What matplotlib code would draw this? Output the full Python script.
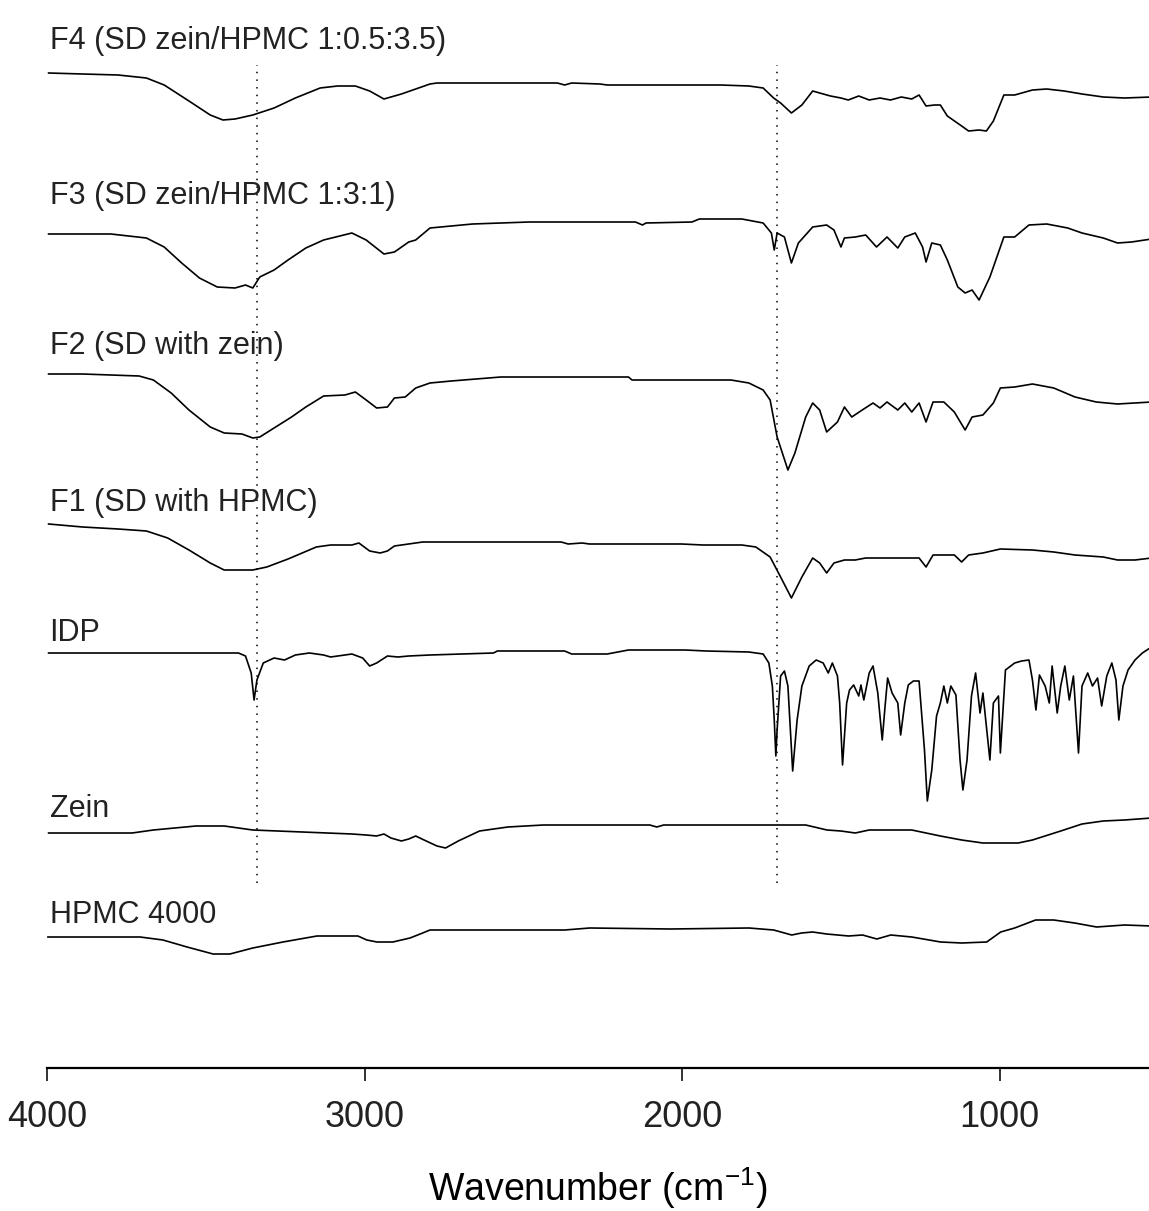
import matplotlib.pyplot as plt
import matplotlib as mpl

plt.rcParams["font.family"] = ["Liberation Sans", "DejaVu Sans"]
plt.rcParams["mathtext.default"] = "regular"

# spectra: wavenumber (cm-1) and relative transmittance
f4_wn = [3995, 3888, 3776, 3687, 3631, 3553, 3486, 3446, 3408, 3352, 3285, 3218, 3140, 3085, 3029,
	2984, 2939, 2884, 2794, 2772, 2393, 2370, 2348, 2259, 2236, 1879, 1790, 1745, 1712, 1690,
	1656, 1623, 1589, 1567, 1533, 1500, 1477, 1444, 1411, 1377, 1344, 1310, 1277, 1254, 1232,
	1205, 1187, 1165, 1120, 1098, 1065, 1042, 1020, 987, 953, 897, 852, 797, 741, 674, 607, 522]
f4_t = [0, -1, -2, -5, -12, -28, -42, -47, -46, -42, -35, -25, -15, -13, -13,
	-18, -26, -21, -11, -10, -10, -12, -10, -11, -12, -12, -13, -15, -25, -30,
	-40, -32, -18, -20, -23, -25, -27, -23, -27, -25, -27, -24, -26, -22, -33,
	-32, -32, -43, -53, -58, -57, -58, -48, -22, -22, -17, -16, -18, -21, -24, -25, -24]

f3_wn = [3995, 3855, 3799, 3687, 3631, 3576, 3520, 3464, 3408, 3375, 3352, 3330, 3285, 3241, 3185,
	3129, 3040, 2995, 2939, 2906, 2861, 2839, 2794, 2660, 2482, 2147, 2125, 2114, 1969, 1946,
	1812, 1745, 1719, 1710, 1701, 1678, 1656, 1634, 1589, 1545, 1522, 1500, 1489, 1455, 1422,
	1388, 1355, 1321, 1299, 1266, 1243, 1232, 1214, 1187, 1165, 1132, 1109, 1087, 1065, 1031,
	987, 953, 908, 852, 786, 741, 674, 629, 585, 522]
f3_t = [0, 0, 0, -4, -13, -29, -44, -53, -54, -51, -54, -43, -36, -26, -14,
	-6, 1, -6, -20, -18, -8, -6, 6, 10, 12, 12, 9, 11, 12, 15,
	15, 11, 1, -16, 1, -3, -29, -9, 7, 9, 4, -13, -4, -3, -1,
	-13, -3, -14, -3, 1, -13, -28, -9, -11, -26, -53, -59, -56, -66, -43,
	-3, -3, 9, 10, 6, 1, -4, -9, -8, -5]

f2_wn = [3995, 3888, 3799, 3710, 3665, 3609, 3553, 3486, 3442, 3386, 3352, 3330, 3285, 3230, 3185,
	3129, 3062, 3029, 2995, 2962, 2928, 2906, 2872, 2839, 2794, 2727, 2571, 2169, 2158, 1846,
	1790, 1745, 1723, 1701, 1667, 1645, 1611, 1589, 1567, 1545, 1511, 1489, 1466, 1433, 1399,
	1377, 1355, 1321, 1299, 1277, 1254, 1232, 1210, 1176, 1143, 1109, 1087, 1053, 1020, 998,
	953, 897, 830, 763, 696, 629, 522]
f2_t = [0, 0, -1, -2, -6, -19, -36, -53, -59, -60, -64, -63, -54, -43, -33,
	-22, -21, -18, -26, -34, -33, -24, -23, -14, -9, -7, -3, -3, -6, -6,
	-9, -16, -26, -63, -96, -79, -43, -29, -36, -58, -48, -33, -43, -36, -29,
	-34, -28, -36, -29, -38, -29, -48, -28, -28, -38, -56, -43, -41, -29, -14,
	-13, -10, -14, -23, -28, -30, -28]

f1_wn = [3995, 3888, 3776, 3687, 3620, 3553, 3486, 3442, 3352, 3308, 3241, 3152, 3107, 3040, 3018,
	2984, 2951, 2928, 2906, 2817, 2381, 2359, 2315, 2292, 2002, 1935, 1812, 1768, 1723, 1690,
	1656, 1623, 1589, 1567, 1545, 1522, 1489, 1455, 1422, 1344, 1254, 1232, 1210, 1143, 1120,
	1098, 1053, 998, 897, 830, 763, 674, 629, 574, 522]
f1_t = [0, -3, -5, -7, -14, -26, -39, -46, -46, -43, -35, -23, -21, -21, -19,
	-27, -29, -27, -22, -18, -18, -20, -19, -20, -20, -21, -21, -23, -33, -53,
	-74, -53, -34, -39, -49, -39, -36, -36, -34, -34, -34, -43, -31, -31, -38,
	-31, -29, -25, -26, -28, -31, -33, -36, -36, -34]

idp_wn = [3995, 3397, 3375, 3357, 3348, 3339, 3319, 3285, 3252, 3218,
	3174, 3129, 3107, 3062, 3040, 3006, 2984, 2962, 2928, 2895,
	2861, 2794, 2594, 2582, 2370, 2348, 2236, 2169, 2058, 1991,
	1924, 1790, 1745, 1727, 1716, 1710, 1705, 1701, 1690, 1678,
	1667, 1652, 1638, 1623, 1600, 1578, 1556, 1540, 1527, 1511,
	1504, 1495, 1482, 1473, 1460, 1444, 1437, 1428, 1411, 1399,
	1384, 1370, 1361, 1353, 1339, 1321, 1312, 1299, 1288, 1272,
	1254, 1237, 1228, 1214, 1199, 1187, 1176, 1165, 1154, 1138,
	1125, 1116, 1103, 1089, 1076, 1062, 1053, 1031, 1020, 1004,
	998, 982, 953, 931, 908, 897, 886, 875, 857, 844,
	835, 819, 808, 795, 781, 768, 752, 741, 723, 708,
	692, 679, 663, 647, 634, 625, 612, 596, 574, 551, 522]
idp_t = [0, 0, -3, -20, -47, -27, -10, -5, -7, -2,
	0, -2, -4, -2, -1, -5, -13, -10, -3, -4,
	-3, -2, 0, 2, 2, -1, -1, 3, 3, 3,
	2, 1, -1, -10, -33, -67, -103, -77, -23, -18,
	-33, -118, -67, -33, -13, -7, -10, -20, -10, -23,
	-50, -112, -50, -37, -32, -43, -32, -47, -20, -13,
	-40, -87, -53, -25, -40, -50, -82, -50, -32, -28,
	-28, -97, -148, -117, -63, -50, -33, -50, -33, -42,
	-107, -137, -107, -43, -20, -60, -40, -107, -50, -43,
	-100, -17, -10, -8, -7, -27, -57, -22, -33, -50,
	-13, -60, -33, -13, -47, -23, -100, -33, -20, -33,
	-25, -53, -23, -10, -27, -67, -33, -17, -7, 0, 6]

zein_wn = [3995, 3732, 3665, 3531, 3442, 3352, 3196, 3040, 2995, 2962, 2939, 2917, 2884, 2861,
	2839, 2806, 2772, 2745, 2705, 2638, 2549, 2437, 2102, 2080, 2058, 1611, 1544, 1500,
	1455, 1411, 1277, 1187, 1120, 1053, 942, 897, 808, 741, 674, 607, 522]
zein_t = [0, 0, 3, 7, 7, 3, 1, -1, -2, -3, -1, -5, -8, -6,
	-3, -8, -13, -15, -8, 2, 6, 8, 8, 6, 8, 8, 3, 2,
	0, 3, 3, -3, -7, -10, -10, -7, 2, 9, 12, 13, 15]

hpmc_wn = [3997, 3707, 3635, 3559, 3477, 3424, 3352, 3257, 3150, 3021, 2993, 2961, 2911, 2857,
	2817, 2794, 2370, 2291, 2036, 1790, 1712, 1655, 1624, 1589, 1545, 1476, 1432, 1387,
	1343, 1277, 1186, 1120, 1041, 997, 953, 887, 830, 764, 695, 607, 522]
hpmc_t = [0, 0, -3, -10, -17, -17, -11, -5, 1, 1, -3, -5, -5, -1,
	4, 7, 7, 9, 8, 9, 7, 2, 4, 5, 3, 1, 2, -2,
	2, 0, -5, -6, -5, 5, 9, 17, 17, 14, 10, 12, 11]

labels = ["F4 (SD zein/HPMC 1:0.5:3.5)", "F3 (SD zein/HPMC 1:3:1)", "F2 (SD with zein)",
	"F1 (SD with HPMC)", "IDP", "Zein", "HPMC 4000"]
spectra = [(f4_wn, f4_t), (f3_wn, f3_t), (f2_wn, f2_t), (f1_wn, f1_t),
	(idp_wn, idp_t), (zein_wn, zein_t), (hpmc_wn, hpmc_t)]
offsets = [995, 834, 694, 544, 415, 235, 131]
label_y = [1019, 864, 714, 557, 427, 251, 145]
marker_wn = [3340, 1702]


def plot():
	fig = plt.figure(figsize=(11.49, 12.11), dpi=100)
	ax = fig.add_axes([47 / 1149, 143 / 1211, 1 - 47 / 1149, 1068 / 1211])

	for (wn, t), off, name, ly in zip(spectra, offsets, labels, label_y):
		ax.plot(wn, [v + off for v in t], color="black", linewidth=1.2)
		ax.text(3992, ly, name, fontsize=22, color="#222222", ha="left", va="baseline")

	for w in marker_wn:
		ax.plot([w, w], [185, 1003], color="black", linewidth=1.1, linestyle=(0, (1, 4)))

	ax.set_xlim(4000, 530)
	ax.set_ylim(0, 1068)
	ax.set_xticks([4000, 3000, 2000, 1000])
	ax.tick_params(axis="x", direction="out", length=9, width=1.3, labelsize=26,
		pad=14, colors="#222222")
	ax.set_yticks([])
	for side in ["left", "right", "top"]:
		ax.spines[side].set_visible(False)
	ax.spines["bottom"].set_linewidth(1.6)
	ax.set_xlabel("Wavenumber (cm$^{-1}$)", fontsize=27, labelpad=22)

	fig.savefig("out.png", dpi=100)


if __name__ == '__main__':
	plot()
